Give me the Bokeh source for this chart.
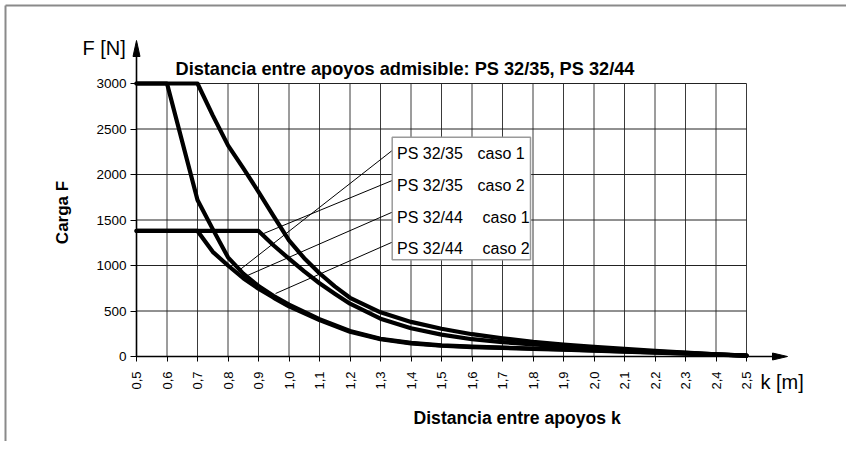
import numpy as np
from bokeh.plotting import figure
from bokeh.models import Range1d, LinearAxis, FixedTicker
from bokeh.core.properties import value
from bokeh.embed import file_html
from bokeh.resources import INLINE

# ---------------- data ----------------
k_ticks = [0.5, 0.6, 0.7, 0.8, 0.9, 1.0, 1.1, 1.2, 1.3, 1.4, 1.5, 1.6, 1.7, 1.8, 1.9,
           2.0, 2.1, 2.2, 2.3, 2.4, 2.5]
k_labels = ["0,5", "0,6", "0,7", "0,8", "0,9", "1,0", "1,1", "1,2", "1,3", "1,4", "1,5",
            "1,6", "1,7", "1,8", "1,9", "2,0", "2,1", "2,2", "2,3", "2,4", "2,5"]
F_ticks = [0, 500, 1000, 1500, 2000, 2500, 3000]

# PS 32/35 caso 1
a_k = [0.5, 0.7, 0.75, 0.8, 0.85, 0.9, 0.95, 1.0, 1.05, 1.1, 1.15, 1.2, 1.3, 1.4, 1.5,
       1.6, 1.7, 1.8, 1.9, 2.0, 2.1, 2.2, 2.3, 2.4, 2.5]
a_F = [3000, 3000, 2650, 2320, 2070, 1810, 1540, 1275, 1080, 915, 770, 645, 485, 380, 305,
       245, 200, 162, 132, 106, 83, 62, 42, 25, 10]
# PS 32/44 caso 1
b_k = [0.5, 0.9, 0.95, 1.0, 1.05, 1.1, 1.15, 1.2, 1.3, 1.4, 1.5, 1.6, 1.7, 1.8, 1.9, 2.0,
       2.1, 2.2, 2.3, 2.4, 2.5]
b_F = [1380, 1380, 1220, 1075, 935, 805, 690, 580, 415, 310, 240, 190, 158, 132, 110, 90,
       72, 55, 39, 24, 10]
# PS 32/35 caso 2
c_k = [0.5, 0.6, 0.7, 0.75, 0.8, 0.85, 0.9, 0.95, 1.0, 1.1, 1.2, 1.3, 1.4, 1.5, 1.6, 1.7,
       1.8, 1.9, 2.0, 2.1, 2.2, 2.3, 2.4, 2.5]
c_F = [3000, 3000, 1720, 1400, 1090, 910, 775, 665, 570, 410, 280, 195, 150, 122, 108, 98,
       88, 78, 68, 57, 46, 34, 22, 10]
# PS 32/44 caso 2
d_k = [0.5, 0.7, 0.75, 0.8, 0.85, 0.9, 0.95, 1.0, 1.1, 1.2, 1.3, 1.4, 1.5, 1.6, 1.7, 1.8,
       1.9, 2.0, 2.1, 2.2, 2.3, 2.4, 2.5]
d_F = [1380, 1380, 1150, 1000, 860, 745, 645, 550, 400, 272, 190, 145, 118, 104, 94, 84,
       74, 64, 54, 43, 32, 21, 10]

legend_names = ["PS 32/35", "PS 32/35", "PS 32/44", "PS 32/44"]
legend_cases = ["caso 1", "caso 2", "caso 1", "caso 2"]
# where each leader line touches the curves (k, F)
leader_k = [0.83, 0.916, 0.85, 0.956]
leader_F = [930, 1350, 870, 692]

title_text = "Distancia entre apoyos admisible: PS 32/35, PS 32/44"
x_title = "Distancia entre apoyos k"
y_title = "Carga F"

# ------------- pixel helpers (picture coordinates) -------------
def X(px):
    return 0.5 + (px - 136.0) / 305.0

def Y(py):
    return (356.0 - py) * 3000.0 / 273.0

FONT = value("Liberation Sans")
W, H = 846, 441

p = figure(width=W, height=H,
           x_range=Range1d(X(0), X(W)), y_range=Range1d(Y(H), Y(0)),
           x_axis_type=None, y_axis_type=None, output_backend="svg",
           toolbar_location=None, min_border=0,
           background_fill_color="white", border_fill_color="white")
p.outline_line_color = None

# page frame (left and top edges)
p.segment(x0=[X(5), X(5)], y0=[Y(5), Y(5)], x1=[X(5), X(W)], y1=[Y(H), Y(5)],
          line_color="#8a8a8a", line_width=2)

# grid
p.segment(x0=k_ticks, y0=0, x1=k_ticks, y1=3000, line_color="#3a3a3a", line_width=1)
p.segment(x0=0.5, y0=F_ticks, x1=2.5, y1=F_ticks, line_color="#222222", line_width=1)

# axes (library axes, fixed at the origin)
xa = LinearAxis(fixed_location=0, ticker=FixedTicker(ticks=k_ticks),
                major_label_overrides={t: l for t, l in zip(k_ticks, k_labels)},
                major_label_orientation=np.pi / 2, axis_line_color=None,
                major_tick_out=5, major_tick_in=0, minor_tick_out=0, minor_tick_in=0,
                major_tick_line_color="black", major_tick_line_width=1,
                major_label_text_font="Liberation Sans", major_label_text_font_size="13px",
                major_label_text_color="black", major_label_standoff=10)
p.add_layout(xa, "below")
ya = LinearAxis(fixed_location=0.5, ticker=FixedTicker(ticks=F_ticks),
                axis_line_color=None,
                major_tick_out=6, major_tick_in=0, minor_tick_out=0, minor_tick_in=0,
                major_tick_line_color="black", major_tick_line_width=1,
                major_label_text_font="Liberation Sans", major_label_text_font_size="13.5px",
                major_label_text_color="black", major_label_standoff=4)
p.add_layout(ya, "left")

# axis lines with arrows
p.segment(x0=[0.5, 0.5], y0=[0, 0], x1=[0.5, X(775)], y1=[Y(52), 0],
          line_color="black", line_width=1.6)
p.patches(xs=[[X(132.5), X(136), X(139.5)], [X(772), X(787), X(772)]],
          ys=[[Y(56), Y(40), Y(56)], [Y(352.5), 0, Y(359.5)]],
          fill_color="black", line_color="black", line_width=1)

# curves
for kk, ff in [(a_k, a_F), (b_k, b_F), (c_k, c_F), (d_k, d_F)]:
    p.line(kk, ff, line_color="black", line_width=4.2, line_join="round", line_cap="round")

# legend box & leader lines
box_l, box_r, box_t, box_b = X(391.7), X(530), Y(136.7), Y(259.3)
row_y = [Y(153), Y(184.5), Y(216.5), Y(248)]
hit_y = [Y(150), Y(180), Y(211.7), Y(241.7)]
p.segment(x0=leader_k, y0=leader_F, x1=box_l, y1=hit_y, line_color="black", line_width=1)
p.quad(left=box_l, right=box_r, top=box_t, bottom=box_b, fill_color="white",
       line_color="#9a9a9a", line_width=1.5)
p.text(x=X(396.5), y=row_y, text=legend_names, text_font=FONT, text_font_size="16px",
       text_baseline="middle", text_align="left", text_color="black")
p.text(x=[X(477), X(477), X(482), X(482)], y=row_y, text=legend_cases, text_font=FONT,
       text_font_size="16px", text_baseline="middle", text_align="left", text_color="black")

# titles
p.text(x=[X(175)], y=[Y(68)], text=[title_text], text_font=FONT, text_font_style="bold",
       text_font_size="18.2px", text_baseline="middle", text_align="left", text_color="black")
p.text(x=[X(413)], y=[Y(417)], text=[x_title], text_font=FONT, text_font_style="bold",
       text_font_size="17.6px", text_baseline="middle", text_align="left", text_color="black")
p.text(x=[X(62)], y=[Y(212)], text=[y_title], text_font=FONT, text_font_style="bold",
       text_font_size="17px", text_baseline="middle", text_align="center", angle=np.pi / 2,
       text_color="black")
p.text(x=[X(82)], y=[Y(47)], text=["F [N]"], text_font=FONT, text_font_size="20px",
       text_baseline="middle", text_align="left", text_color="black")
p.text(x=[X(760)], y=[Y(381)], text=["k [m]"], text_font=FONT, text_font_size="20px",
       text_baseline="middle", text_align="left", text_color="black")

open("out.html", "w").write(file_html(p, INLINE))
